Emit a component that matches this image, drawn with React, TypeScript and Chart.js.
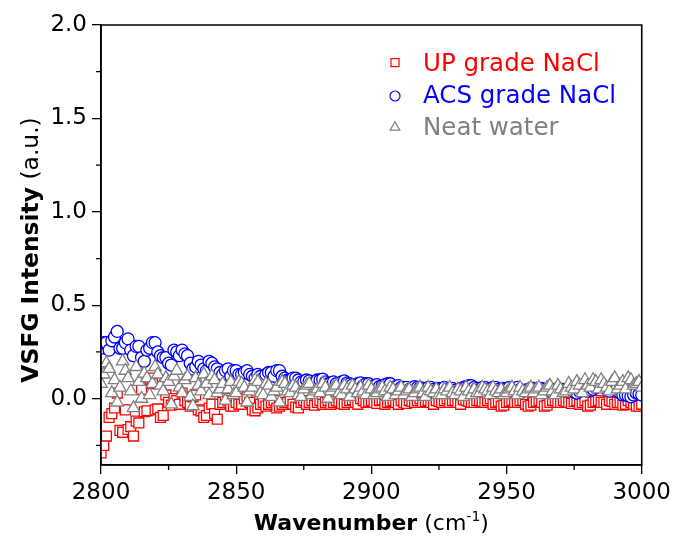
import { useEffect, useRef } from 'react';
import { Chart, registerables } from 'chart.js';

Chart.register(...registerables);

const wavenumbers = [
  2800, 2801, 2802, 2803, 2804, 2805, 2806, 2807, 2808, 2809,
  2810, 2811, 2812, 2813, 2814, 2815, 2816, 2817, 2818, 2819,
  2820, 2821, 2822, 2823, 2824, 2825, 2826, 2827, 2828, 2829,
  2830, 2831, 2832, 2833, 2834, 2835, 2836, 2837, 2838, 2839,
  2840, 2841, 2842, 2843, 2844, 2845, 2846, 2847, 2848, 2849,
  2850, 2851, 2852, 2853, 2854, 2855, 2856, 2857, 2858, 2859,
  2860, 2861, 2862, 2863, 2864, 2865, 2866, 2867, 2868, 2869,
  2870, 2871, 2872, 2873, 2874, 2875, 2876, 2877, 2878, 2879,
  2880, 2881, 2882, 2883, 2884, 2885, 2886, 2887, 2888, 2889,
  2890, 2891, 2892, 2893, 2894, 2895, 2896, 2897, 2898, 2899,
  2900, 2901, 2902, 2903, 2904, 2905, 2906, 2907, 2908, 2909,
  2910, 2911, 2912, 2913, 2914, 2915, 2916, 2917, 2918, 2919,
  2920, 2921, 2922, 2923, 2924, 2925, 2926, 2927, 2928, 2929,
  2930, 2931, 2932, 2933, 2934, 2935, 2936, 2937, 2938, 2939,
  2940, 2941, 2942, 2943, 2944, 2945, 2946, 2947, 2948, 2949,
  2950, 2951, 2952, 2953, 2954, 2955, 2956, 2957, 2958, 2959,
  2960, 2961, 2962, 2963, 2964, 2965, 2966, 2967, 2968, 2969,
  2970, 2971, 2972, 2973, 2974, 2975, 2976, 2977, 2978, 2979,
  2980, 2981, 2982, 2983, 2984, 2985, 2986, 2987, 2988, 2989,
  2990, 2991, 2992, 2993, 2994, 2995, 2996, 2997, 2998, 2999,
  3000,
];

const upGrade = [
  -0.29, -0.25, -0.20, -0.10, -0.08, -0.05, 0.03, -0.17, -0.18, -0.06,
  -0.165, -0.15, -0.20, -0.12, -0.13, 0.05, -0.07, -0.065, 0.11, 0.08,
  -0.06, -0.055, -0.10, -0.09, 0.02, -0.02, -0.035, 0.0, -0.01, -0.03,
  0.03, -0.01, -0.02, -0.04, 0.01, 0.02, -0.06, -0.065, -0.10, -0.09,
  -0.05, -0.03, -0.08, -0.11, -0.03, -0.02, 0.0, -0.01, -0.04, -0.04,
  -0.02, -0.03, -0.03, 0.0, 0.01, -0.02, -0.06, -0.065, -0.05, -0.03,
  -0.02, -0.04, -0.03, -0.02, -0.01, -0.05, -0.04, -0.03, -0.02, -0.02,
  -0.01, -0.03, -0.045, -0.05, -0.02, -0.01, -0.03, -0.02, -0.01, -0.035,
  -0.02, -0.01, -0.03, -0.02, -0.01, -0.03, -0.02, -0.01, -0.015, -0.025,
  -0.03, -0.02, -0.01, -0.005, -0.02, -0.03, 0.0, -0.01, -0.02, -0.015,
  -0.01, -0.02, -0.025, -0.01, -0.005, -0.03, -0.02, -0.015, -0.01, -0.02,
  -0.03, -0.01, -0.02, -0.025, -0.01, -0.015, -0.02, -0.01, 0.0, -0.02,
  -0.015, -0.01, -0.02, -0.03, -0.01, -0.015, -0.02, -0.01, 0.0, -0.02,
  -0.01, -0.01, -0.02, -0.03, -0.005, -0.01, -0.015, -0.02, -0.02, -0.01,
  -0.01, -0.015, -0.02, -0.01, 0.0, -0.03, -0.02, -0.015, -0.04, -0.035,
  -0.02, -0.015, -0.01, -0.02, -0.02, -0.01, -0.01, -0.03, -0.04, -0.035,
  -0.02, -0.015, -0.01, -0.02, -0.04, -0.035, -0.02, -0.01, -0.01, -0.02,
  -0.02, -0.01, -0.015, -0.02, -0.025, -0.015, -0.01, -0.03, -0.02, -0.01,
  -0.04, -0.035, -0.02, -0.015, -0.01, -0.02, -0.02, -0.03, -0.01, -0.015,
  -0.03, -0.02, -0.02, -0.035, -0.03, -0.01, -0.02, -0.03, -0.04, -0.04,
  -0.03,
];

const acsGrade = [
  0.27, 0.30, 0.30, 0.26, 0.31, 0.33, 0.36, 0.27, 0.27, 0.30,
  0.32, 0.26, 0.23, 0.28, 0.28, 0.22, 0.20, 0.26, 0.27, 0.30,
  0.30, 0.25, 0.23, 0.22, 0.22, 0.19, 0.18, 0.26, 0.25, 0.23,
  0.26, 0.24, 0.23, 0.19, 0.16, 0.17, 0.20, 0.18, 0.16, 0.15,
  0.20, 0.19, 0.17, 0.16, 0.14, 0.13, 0.15, 0.16, 0.12, 0.15,
  0.15, 0.13, 0.13, 0.14, 0.15, 0.13, 0.12, 0.11, 0.13, 0.12,
  0.11, 0.13, 0.14, 0.14, 0.12, 0.15, 0.15, 0.12, 0.11, 0.10,
  0.10, 0.11, 0.11, 0.10, 0.09, 0.09, 0.10, 0.095, 0.08, 0.09,
  0.10, 0.10, 0.105, 0.09, 0.08, 0.085, 0.09, 0.08, 0.07, 0.09,
  0.095, 0.085, 0.08, 0.075, 0.07, 0.08, 0.085, 0.07, 0.08, 0.08,
  0.06, 0.07, 0.075, 0.065, 0.07, 0.075, 0.08, 0.08, 0.06, 0.065,
  0.07, 0.06, 0.06, 0.06, 0.05, 0.055, 0.065, 0.06, 0.06, 0.055,
  0.05, 0.06, 0.06, 0.05, 0.045, 0.055, 0.055, 0.06, 0.05, 0.05,
  0.055, 0.045, 0.04, 0.05, 0.06, 0.065, 0.07, 0.07, 0.06, 0.055,
  0.05, 0.06, 0.06, 0.05, 0.055, 0.06, 0.06, 0.05, 0.045, 0.055,
  0.055, 0.06, 0.05, 0.055, 0.06, 0.05, 0.04, 0.045, 0.05, 0.055,
  0.055, 0.05, 0.045, 0.055, 0.05, 0.045, 0.04, 0.05, 0.05, 0.04,
  0.045, 0.05, 0.05, 0.05, 0.04, 0.035, 0.03, 0.04, 0.045, 0.05,
  0.04, 0.045, 0.05, 0.06, 0.07, 0.07, 0.065, 0.05, 0.04, 0.06,
  0.07, 0.06, 0.03, 0.02, 0.02, 0.015, 0.01, 0.02, 0.03, 0.025,
  0.02,
];

const neatWater = [
  0.08, 0.13, 0.19, 0.16, 0.03, 0.10, -0.02, 0.06, 0.20, 0.15,
  0.11, 0.04, -0.05, 0.17, 0.09, 0.00, 0.135, 0.11, 0.02, 0.08,
  0.17, 0.13, 0.07, 0.04, 0.11, 0.09, -0.03, 0.12, 0.15, 0.06,
  0.03, 0.10, 0.12, 0.01, -0.04, 0.11, 0.07, 0.04, 0.13, 0.08,
  0.02, 0.12, 0.10, 0.03, 0.05, 0.08, -0.01, 0.05, 0.09, 0.02,
  0.03, 0.09, 0.08, 0.06, -0.02, 0.04, 0.06, 0.10, 0.09, 0.03,
  0.02, 0.08, 0.07, 0.01, 0.04, 0.06, -0.02, 0.09, 0.08, 0.04,
  0.03, 0.07, 0.06, 0.02, 0.01, 0.05, 0.07, 0.08, 0.02, 0.04,
  0.05, 0.03, 0.08, 0.06, 0.0, 0.04, 0.06, 0.07, 0.03, 0.02,
  0.07, 0.05, 0.01, 0.07, 0.05, 0.03, 0.06, 0.04, 0.02, 0.07,
  0.05, 0.02, 0.03, 0.05, 0.06, 0.04, 0.01, 0.06, 0.05, 0.02,
  0.04, 0.06, 0.02, 0.04, 0.05, 0.01, 0.03, 0.05, 0.06, 0.03,
  0.01, 0.06, 0.04, 0.03, 0.05, 0.02, 0.02, 0.05, 0.04, 0.06,
  0.03, 0.02, 0.05, 0.04, 0.01, 0.06, 0.04, 0.02, 0.05, 0.03,
  0.03, 0.06, 0.05, 0.04, 0.02, 0.06, 0.04, 0.03, 0.05, 0.02,
  0.03, 0.05, 0.06, 0.04, 0.02, 0.06, 0.04, 0.03, 0.05, 0.06,
  0.03, 0.05, 0.06, 0.02, 0.04, 0.06, 0.07, 0.04, 0.02, 0.07,
  0.05, 0.03, 0.04, 0.08, 0.06, 0.05, 0.09, 0.07, 0.03, 0.10,
  0.07, 0.06, 0.10, 0.09, 0.05, 0.10, 0.08, 0.06, 0.04, 0.09,
  0.11, 0.05, 0.07, 0.09, 0.05, 0.11, 0.10, 0.07, 0.08, 0.09,
  0.06,
];

const xMajorTicks = [2800, 2850, 2900, 2950, 3000];
const xMinorTicks = [2825, 2875, 2925, 2975];
const yMajorTicks = [0, 0.5, 1.0, 1.5, 2.0];
const yMinorTicks = [-0.25, 0.25, 0.75, 1.25, 1.75];

const seriesLabels = ['UP grade NaCl', 'ACS grade NaCl', 'Neat water'];
const seriesColors = ['#ff0000', '#0000ff', '#808080'];

const FONT = '"DejaVu Sans", "Liberation Sans", sans-serif';

const decorPlugin = {
  id: 'decor',
  afterDatasetsDraw(chart: any) {
    const { ctx, chartArea } = chart;
    const { left, right, top, bottom } = chartArea;
    const xs = chart.scales.x;
    const ys = chart.scales.y;
    ctx.save();
    // frame
    ctx.strokeStyle = '#000';
    ctx.lineWidth = 1.6;
    ctx.beginPath();
    ctx.rect(left, top, right - left, bottom - top);
    ctx.stroke();
    // minor ticks
    ctx.lineWidth = 1.3;
    ctx.beginPath();
    xMinorTicks.forEach((v) => {
      const px = xs.getPixelForValue(v);
      ctx.moveTo(px, bottom);
      ctx.lineTo(px, bottom + 5);
    });
    yMinorTicks.forEach((v) => {
      const py = ys.getPixelForValue(v);
      ctx.moveTo(left, py);
      ctx.lineTo(left - 5, py);
    });
    ctx.stroke();

    // x title
    ctx.fillStyle = '#000';
    ctx.textBaseline = 'alphabetic';
    ctx.textAlign = 'left';
    const bold = `bold 22px ${FONT}`;
    const reg = `22px ${FONT}`;
    const sup = `14px ${FONT}`;
    ctx.font = bold;
    const w1 = ctx.measureText('Wavenumber').width;
    ctx.font = reg;
    const w2 = ctx.measureText(' (cm').width;
    ctx.font = sup;
    const w3 = ctx.measureText('-1').width;
    ctx.font = reg;
    const w4 = ctx.measureText(')').width;
    const total = w1 + w2 + w3 + w4;
    let cx = (left + right) / 2 - total / 2;
    const by = 530;
    ctx.font = bold;
    ctx.fillText('Wavenumber', cx, by);
    cx += w1;
    ctx.font = reg;
    ctx.fillText(' (cm', cx, by);
    cx += w2;
    ctx.font = sup;
    ctx.fillText('-1', cx, by - 9);
    cx += w3;
    ctx.font = reg;
    ctx.fillText(')', cx, by);

    // y title
    const yBold = `bold 23.4px ${FONT}`;
    const yReg = `23.4px ${FONT}`;
    ctx.save();
    ctx.translate(38, 250);
    ctx.rotate(-Math.PI / 2);
    ctx.font = yBold;
    const t1 = ctx.measureText('VSFG Intensity').width;
    ctx.font = yReg;
    const t2 = ctx.measureText(' (a.u.)').width;
    const ty0 = -(t1 + t2) / 2;
    ctx.font = yBold;
    ctx.fillText('VSFG Intensity', ty0, 0);
    ctx.font = yReg;
    ctx.fillText(' (a.u.)', ty0 + t1, 0);
    ctx.restore();

    // legend
    const rowsMarkerY = [62.7, 96, 127.3];
    const rowsTextY = [70.5, 102.5, 134.5];
    const mx = 395;
    ctx.lineWidth = 1.2;
    for (let i = 0; i < 3; i++) {
      ctx.strokeStyle = seriesColors[i];
      ctx.fillStyle = '#fff';
      const my = rowsMarkerY[i];
      ctx.beginPath();
      if (i === 0) {
        ctx.rect(mx - 4, my - 4, 8, 8);
      } else if (i === 1) {
        ctx.arc(mx, my, 5, 0, Math.PI * 2);
      } else {
        const r = 5.6;
        ctx.moveTo(mx, my - r);
        ctx.lineTo(mx + r * 0.866, my + r * 0.5);
        ctx.lineTo(mx - r * 0.866, my + r * 0.5);
        ctx.closePath();
      }
      ctx.fill();
      ctx.stroke();
      ctx.fillStyle = seriesColors[i];
      ctx.font = `24.5px ${FONT}`;
      ctx.fillText(seriesLabels[i], 423, rowsTextY[i]);
    }
    ctx.restore();
  },
};

export default function App() {
  const canvasRef = useRef<HTMLCanvasElement | null>(null);

  useEffect(() => {
    const canvas = canvasRef.current;
    if (!canvas) return;
    const mk = (arr: number[]) => wavenumbers.map((x, i) => ({ x, y: arr[i] }));
    const common = {
      showLine: false,
      clip: 0,
      pointBorderWidth: 1.3,
      pointBackgroundColor: '#ffffff',
      pointHoverRadius: 0,
    };
    const chart = new Chart(canvas, {
      type: 'scatter',
      data: {
        datasets: [
          {
            ...common,
            label: seriesLabels[2],
            data: mk(neatWater),
            pointStyle: 'triangle',
            pointRadius: 7.2,
            pointBorderColor: seriesColors[2],
          } as any,
          {
            ...common,
            label: seriesLabels[1],
            data: mk(acsGrade),
            pointStyle: 'circle',
            pointRadius: 6,
            pointBorderColor: seriesColors[1],
          } as any,
          {
            ...common,
            label: seriesLabels[0],
            data: mk(upGrade),
            pointStyle: 'rect',
            pointRadius: 7,
            pointBorderColor: seriesColors[0],
          } as any,
        ],
      },
      options: {
        animation: false,
        responsive: false,
        devicePixelRatio: 1,
        events: [],
        layout: { padding: { top: 25, right: 34, left: 0, bottom: 0 } },
        plugins: {
          legend: { display: false },
          tooltip: { enabled: false },
          title: { display: false },
        },
        scales: {
          x: {
            type: 'linear',
            min: 2800,
            max: 3000,
            afterBuildTicks: (s: any) => {
              s.ticks = xMajorTicks.map((v) => ({ value: v }));
            },
            afterFit: (s: any) => {
              s.height = 80;
            },
            grid: {
              display: true,
              drawOnChartArea: false,
              drawTicks: true,
              tickLength: 9,
              color: '#000',
              lineWidth: 1.3,
            },
            border: { display: true, color: '#000', width: 1.6 },
            ticks: {
              font: { family: FONT, size: 23 },
              color: '#000',
              padding: 5,
              maxRotation: 0,
              autoSkip: false,
              callback: (v: any) => String(v),
            },
          },
          y: {
            type: 'linear',
            min: -0.355,
            max: 2.0,
            afterBuildTicks: (s: any) => {
              s.ticks = yMajorTicks.map((v) => ({ value: v }));
            },
            afterFit: (s: any) => {
              s.width = 101;
            },
            grid: {
              display: true,
              drawOnChartArea: false,
              drawTicks: true,
              tickLength: 9,
              color: '#000',
              lineWidth: 1.3,
            },
            border: { display: true, color: '#000', width: 1.6 },
            ticks: {
              font: { family: FONT, size: 23 },
              color: '#000',
              padding: 5,
              autoSkip: false,
              callback: (v: any) => Number(v).toFixed(1),
            },
          },
        },
      } as any,
      plugins: [decorPlugin],
    });
    return () => chart.destroy();
  }, []);

  return (
    <div style={{ position: 'absolute', left: 0, top: 0, width: 676, height: 545, background: '#fff' }}>
      <canvas ref={canvasRef} width={676} height={545} style={{ display: 'block', width: 676, height: 545 }} />
    </div>
  );
}
